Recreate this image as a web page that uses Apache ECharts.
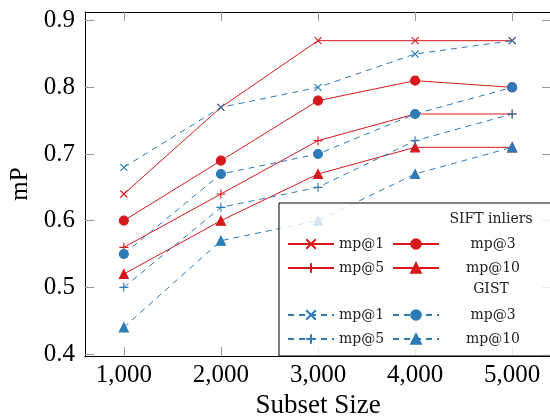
<!DOCTYPE html>
<html>
<head>
<meta charset="utf-8">
<script src="https://cdn.jsdelivr.net/npm/echarts@6/dist/echarts.min.js"></script>
<style>
  html, body { margin: 0; padding: 0; background: #fff; }
  #main { width: 550px; height: 420px; }
</style>
</head>
<body>
<div id="main"></div>
<script>
// data
var subsetSizes = [1000, 2000, 3000, 4000, 5000];
var yTicks = [0.4, 0.5, 0.6, 0.7, 0.8, 0.9];

// SIFT inliers (red, solid)
var siftMp1  = [0.64, 0.77, 0.87, 0.87, 0.87];
var siftMp3  = [0.60, 0.69, 0.78, 0.81, 0.80];
var siftMp5  = [0.56, 0.64, 0.72, 0.76, 0.76];
var siftMp10 = [0.52, 0.60, 0.67, 0.71, 0.71];

// GIST (blue, dashed)
var gistMp1  = [0.68, 0.77, 0.80, 0.85, 0.87];
var gistMp3  = [0.55, 0.67, 0.70, 0.76, 0.80];
var gistMp5  = [0.50, 0.62, 0.65, 0.72, 0.76];
var gistMp10 = [0.44, 0.57, 0.60, 0.67, 0.71];

var RED = '#d7191c', BLUE = '#2c7bb6';
var serif = 'Liberation Serif';
var small = 'DejaVu Serif';

var crossPath = 'path://M0,0L10,10M10,0L0,10';
var plusPath = 'path://M5,0L5,10M0,5L10,5';

function pairs(vals){
  return subsetSizes.map(function(x, i){ return [x, vals[i]]; });
}

function mkSeries(name, vals, color, dashed, symbol, size){
  return {
    name: name,
    type: 'line',
    data: pairs(vals),
    symbol: symbol,
    symbolSize: size,
    lineStyle: { color: color, width: 1, type: dashed ? [6, 5] : 'solid' },
    itemStyle: { color: color, borderColor: color, borderWidth: 1.1 },
    z: dashed ? 3 : 2
  };
}

var series = [
  mkSeries('SIFT mp@1',  siftMp1,  RED, false, crossPath, 7),
  mkSeries('SIFT mp@3',  siftMp3,  RED, false, 'circle', 9),
  mkSeries('SIFT mp@5',  siftMp5,  RED, false, plusPath, 9),
  mkSeries('SIFT mp@10', siftMp10, RED, false, 'triangle', 9),
  mkSeries('GIST mp@1',  gistMp1,  BLUE, true, crossPath, 7),
  mkSeries('GIST mp@3',  gistMp3,  BLUE, true, 'circle', 9),
  mkSeries('GIST mp@5',  gistMp5,  BLUE, true, plusPath, 9),
  mkSeries('GIST mp@10', gistMp10, BLUE, true, 'triangle', 9)
];

// one legend per entry, laid out like the pgfplots table legend
var legendSpots = [
  ['SIFT mp@1', 287, 243, 0], ['SIFT mp@3', 392, 243, 1],
  ['SIFT mp@5', 287, 267, 0], ['SIFT mp@10', 392, 267, 1],
  ['GIST mp@1', 287, 314, 0], ['GIST mp@3', 392, 314, 1],
  ['GIST mp@5', 287, 338, 0], ['GIST mp@10', 392, 338, 1]
];
var legends = legendSpots.map(function(s){
  return {
    data: [s[0]],
    left: s[1],
    top: s[2] - 6,
    padding: 0,
    itemWidth: 46,
    itemHeight: 12,
    selectedMode: false,
    z: 30,
    formatter: function(n){
      var t = n.split(' ')[1];
      return s[3] ? '{c|' + t + '}' : t;
    },
    textStyle: {
      fontFamily: small, fontSize: 14, color: '#222',
      rich: { c: { width: 98, align: 'center', fontFamily: small, fontSize: 14, color: '#222' } }
    }
  };
});

var tickStyle = { color: '#999', width: 1 };
var lineBlack = { color: '#000', width: 1 };

var option = {
  animation: false,
  grid: { left: 85, top: 12, width: 466, height: 344, outerBoundsMode: 'none' },
  xAxis: [{
    type: 'value', min: 600, max: 5400, position: 'bottom',
    axisLine: { onZero: false, lineStyle: lineBlack },
    axisTick: { inside: true, length: 9, lineStyle: tickStyle, customValues: subsetSizes },
    axisLabel: {
      customValues: subsetSizes, margin: 7,
      fontFamily: serif, fontSize: 25, color: '#000',
      formatter: function(v){ return String(v).replace(/\B(?=(\d{3})+$)/, ','); }
    },
    splitLine: { show: false },
    name: 'Subset Size', nameLocation: 'middle', nameGap: 30,
    nameTextStyle: { fontFamily: serif, fontSize: 27, color: '#000' }
  }, {
    type: 'value', min: 600, max: 5400, position: 'top',
    axisLine: { onZero: false, lineStyle: lineBlack },
    axisTick: { inside: true, length: 9, lineStyle: tickStyle, customValues: subsetSizes },
    axisLabel: { show: false },
    splitLine: { show: false }
  }],
  yAxis: [{
    type: 'value', min: 0.397, max: 0.913, position: 'left',
    axisLine: { show: true, onZero: false, lineStyle: lineBlack },
    axisTick: { show: true, inside: true, length: 9, lineStyle: tickStyle, customValues: yTicks },
    axisLabel: {
      customValues: yTicks, margin: 10,
      fontFamily: serif, fontSize: 25, color: '#000',
      padding: [4, 0, 0, 0],
      formatter: function(v){ return v.toFixed(1); }
    },
    splitLine: { show: false },
    name: 'mP', nameLocation: 'middle', nameGap: 50,
    nameTextStyle: { fontFamily: serif, fontSize: 25, color: '#000' }
  }, {
    type: 'value', min: 0.397, max: 0.913, position: 'right',
    axisLine: { show: true, onZero: false, lineStyle: lineBlack },
    axisTick: { show: true, inside: true, length: 9, lineStyle: tickStyle, customValues: yTicks },
    axisLabel: { show: false },
    splitLine: { show: false }
  }],
  legend: legends,
  graphic: [{
    type: 'rect', z: 20,
    shape: { x: 279, y: 203, width: 290, height: 153 },
    style: { fill: 'rgba(255,255,255,0.8)', stroke: '#000', lineWidth: 1 }
  }, {
    type: 'text', z: 30, x: 491, y: 219,
    style: { text: 'SIFT inliers', fontFamily: small, fontSize: 14, fill: '#222', align: 'center', verticalAlign: 'middle' }
  }, {
    type: 'text', z: 30, x: 491, y: 289,
    style: { text: 'GIST', fontFamily: small, fontSize: 14, fill: '#222', align: 'center', verticalAlign: 'middle' }
  }],
  series: series
};

var chart = echarts.init(document.getElementById('main'));
chart.setOption(option);
</script>
</body>
</html>
